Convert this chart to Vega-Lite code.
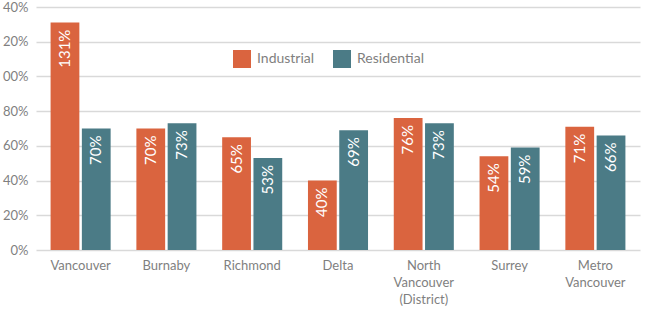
{
  "$schema": "https://vega.github.io/schema/vega-lite/v6.json",
  "autosize": {"type": "none"},
  "width": 604,
  "height": 243,
  "padding": {"left": 36, "top": 7, "right": 18, "bottom": 61},
  "background": "white",
  "config": {
    "view": {"stroke": null},
    "font": "Lato"
  },
  "data": {
    "values": [
      {"area": "Vancouver", "type": "Industrial", "value": 1.31},
      {"area": "Vancouver", "type": "Residential", "value": 0.70},
      {"area": "Burnaby", "type": "Industrial", "value": 0.70},
      {"area": "Burnaby", "type": "Residential", "value": 0.73},
      {"area": "Richmond", "type": "Industrial", "value": 0.65},
      {"area": "Richmond", "type": "Residential", "value": 0.53},
      {"area": "Delta", "type": "Industrial", "value": 0.40},
      {"area": "Delta", "type": "Residential", "value": 0.69},
      {"area": "North Vancouver (District)", "type": "Industrial", "value": 0.76},
      {"area": "North Vancouver (District)", "type": "Residential", "value": 0.73},
      {"area": "Surrey", "type": "Industrial", "value": 0.54},
      {"area": "Surrey", "type": "Residential", "value": 0.59},
      {"area": "Metro Vancouver", "type": "Industrial", "value": 0.71},
      {"area": "Metro Vancouver", "type": "Residential", "value": 0.66}
    ]
  },
  "encoding": {
    "x": {
      "field": "area", "type": "nominal", "sort": null,
      "scale": {"paddingInner": 0.3, "paddingOuter": 0.17},
      "axis": {
        "title": null, "labelAngle": 0, "domain": false, "ticks": false,
        "labelFontSize": 13, "labelColor": "#7f7f7f", "labelPadding": 9,
        "labelLineHeight": 17, "labelBaseline": "top",
        "labelExpr": "datum.label == 'North Vancouver (District)' ? ['North', 'Vancouver', '(District)'] : datum.label == 'Metro Vancouver' ? ['Metro', 'Vancouver'] : datum.label"
      }
    },
    "xOffset": {"field": "type", "type": "nominal", "scale": {"paddingInner": 0.08}},
    "y": {
      "field": "value", "type": "quantitative",
      "scale": {"domain": [0, 1.4], "nice": false},
      "axis": {
        "title": null, "format": ".0%", "values": [0, 0.2, 0.4, 0.6, 0.8, 1.0, 1.2, 1.4],
        "domain": false, "ticks": false, "labelPadding": 8,
        "labelFontSize": 13, "labelColor": "#7f7f7f",
        "gridColor": "#d9d9d9", "gridWidth": 1.5,
        "labelExpr": "slice(datum.label, -3)"
      }
    }
  },
  "layer": [
    {
      "mark": {"type": "bar"},
      "encoding": {
        "color": {
          "field": "type", "type": "nominal",
          "scale": {"domain": ["Industrial", "Residential"], "range": ["#DA643F", "#4B7B86"]},
          "legend": {
            "title": null, "orient": "none", "direction": "horizontal",
            "legendX": 197, "legendY": 43,
            "symbolType": "square", "symbolSize": 324, "symbolStrokeWidth": 0,
            "labelFontSize": 14, "labelColor": "#7f7f7f", "labelOffset": 6,
            "columnPadding": 18
          }
        }
      }
    },
    {
      "mark": {"type": "text", "angle": 270, "align": "right", "baseline": "middle", "dx": -7, "color": "white", "fontSize": 15},
      "encoding": {
        "text": {"field": "value", "type": "quantitative", "format": ".0%"}
      }
    }
  ]
}
